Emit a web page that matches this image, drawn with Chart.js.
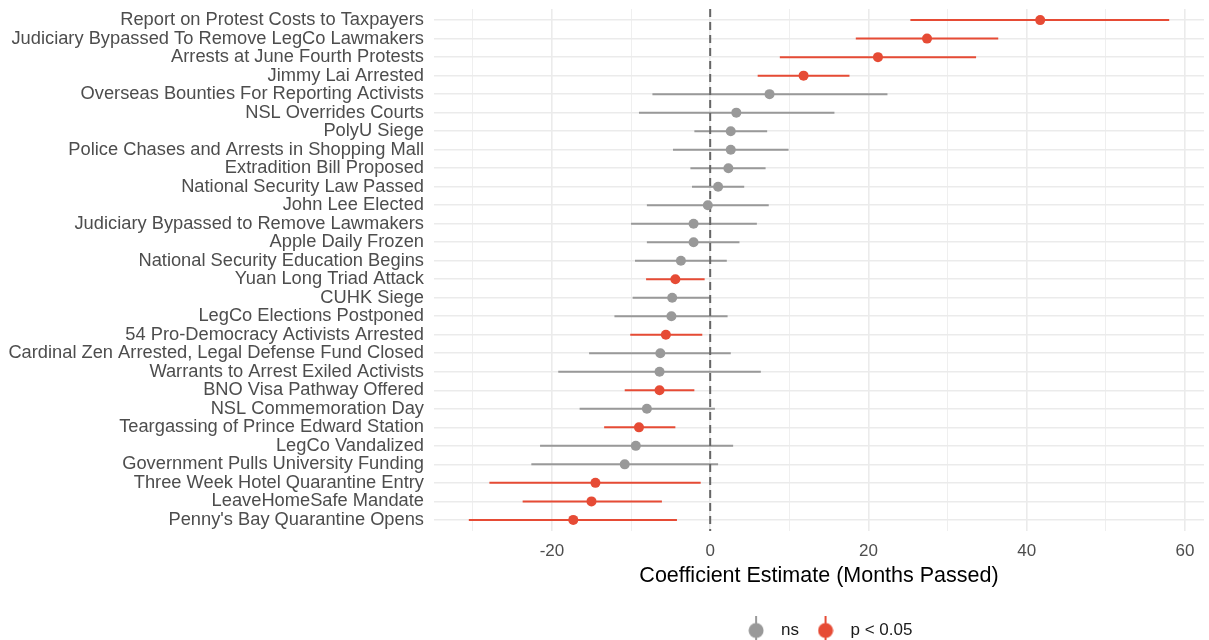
<!DOCTYPE html>
<html>
<head>
<meta charset="utf-8">
<script src="https://cdn.jsdelivr.net/npm/chart.js@4"></script>
<style>
  html, body { margin: 0; padding: 0; background: #fff; }
</style>
</head>
<body>
<canvas id="coefChart" width="1209" height="640"></canvas>
<script>
// Events, top to bottom
const events = [
    'Report on Protest Costs to Taxpayers',
    'Judiciary Bypassed To Remove LegCo Lawmakers',
    'Arrests at June Fourth Protests',
    'Jimmy Lai Arrested',
    'Overseas Bounties For Reporting Activists',
    'NSL Overrides Courts',
    'PolyU Siege',
    'Police Chases and Arrests in Shopping Mall',
    'Extradition Bill Proposed',
    'National Security Law Passed',
    'John Lee Elected',
    'Judiciary Bypassed to Remove Lawmakers',
    'Apple Daily Frozen',
    'National Security Education Begins',
    'Yuan Long Triad Attack',
    'CUHK Siege',
    'LegCo Elections Postponed',
    '54 Pro-Democracy Activists Arrested',
    'Cardinal Zen Arrested, Legal Defense Fund Closed',
    'Warrants to Arrest Exiled Activists',
    'BNO Visa Pathway Offered',
    'NSL Commemoration Day',
    'Teargassing of Prince Edward Station',
    'LegCo Vandalized',
    'Government Pulls University Funding',
    'Three Week Hotel Quarantine Entry',
    'LeaveHomeSafe Mandate',
    "Penny's Bay Quarantine Opens"
];

// Coefficient estimates (months passed) and confidence bounds
const estimates = [41.7, 27.4, 21.2, 11.8, 7.5, 3.3, 2.6, 2.6, 2.3, 1.0,
    -0.3, -2.1, -2.1, -3.7, -4.4, -4.8, -4.9, -5.6, -6.3, -6.4,
    -6.4, -8.0, -9.0, -9.4, -10.8, -14.5, -15.0, -17.3];
const lowerCI = [25.3, 18.4, 8.8, 6.0, -7.3, -9.0, -2.0, -4.7, -2.5, -2.3,
    -8.0, -10.0, -8.0, -9.5, -8.1, -9.8, -12.1, -10.1, -15.3, -19.2,
    -10.8, -16.5, -13.4, -21.5, -22.6, -27.9, -23.7, -30.5];
const upperCI = [58.0, 36.4, 33.6, 17.6, 22.4, 15.7, 7.2, 9.9, 7.0, 4.3,
    7.4, 5.9, 3.7, 2.1, -0.7, 0.1, 2.2, -1.0, 2.6, 6.4,
    -2.0, 0.6, -4.4, 2.9, 1.0, -1.2, -6.1, -4.2];
const significant = [true, true, true, true, false, false, false, false, false, false,
    false, false, false, false, true, false, false, true, false, false,
    true, false, true, false, false, true, true, true];

const xTicks = [-30, -20, -10, 0, 10, 20, 30, 40, 50, 60];
const groupLabels = ['ns', 'p < 0.05'];
const groupColors = ['#999999', '#E64B35'];

Chart.defaults.font.family = "'Liberation Sans', Arial, sans-serif";

function groupPoints(sig) {
    const pts = [];
    events.forEach((name, i) => {
        if (significant[i] === sig) pts.push({ x: estimates[i], y: i });
    });
    return pts;
}

// legend key: dot with a vertical line through it
function makeKey(color) {
    const c = document.createElement('canvas');
    c.width = 16; c.height = 30;
    const g = c.getContext('2d');
    g.strokeStyle = color;
    g.lineWidth = 2;
    g.beginPath(); g.moveTo(8, 0); g.lineTo(8, 30); g.stroke();
    g.fillStyle = color;
    g.beginPath(); g.arc(8, 15, 7.5, 0, Math.PI * 2); g.fill();
    return c;
}

// confidence intervals and the zero line, drawn under the points
const intervalPlugin = {
    id: 'intervals',
    beforeDatasetsDraw(chart) {
        const { ctx, chartArea, scales: { x, y } } = chart;
        ctx.save();
        ctx.lineWidth = 2;
        events.forEach((name, i) => {
            const py = y.getPixelForValue(i);
            ctx.strokeStyle = significant[i] ? groupColors[1] : groupColors[0];
            ctx.beginPath();
            ctx.moveTo(x.getPixelForValue(lowerCI[i]), py);
            ctx.lineTo(x.getPixelForValue(upperCI[i]), py);
            ctx.stroke();
        });
        const x0 = x.getPixelForValue(0);
        ctx.strokeStyle = '#666666';
        ctx.lineWidth = 2;
        ctx.setLineDash([8, 5]);
        ctx.beginPath();
        ctx.moveTo(x0, chartArea.top);
        ctx.lineTo(x0, chartArea.bottom);
        ctx.stroke();
        ctx.restore();
    }
};

// nudge the legend a little to the right of the plot centre
const legendNudge = {
    id: 'legendNudge',
    afterLayout(chart) {
        chart.legend.left += 7;
        chart.legend.right += 7;
    }
};

new Chart(document.getElementById('coefChart'), {
    type: 'scatter',
    data: {
        datasets: [
            {
                label: groupLabels[0],
                data: groupPoints(false),
                backgroundColor: groupColors[0],
                borderColor: groupColors[0],
                pointRadius: 5,
                pointBorderWidth: 0
            },
            {
                label: groupLabels[1],
                data: groupPoints(true),
                backgroundColor: groupColors[1],
                borderColor: groupColors[1],
                pointRadius: 5,
                pointBorderWidth: 0
            }
        ]
    },
    options: {
        responsive: false,
        animation: false,
        layout: { padding: { top: 9, right: 0, bottom: -9, left: 0 } },
        plugins: {
            tooltip: { enabled: false },
            legend: {
                position: 'bottom',
                fullSize: false,
                labels: {
                    usePointStyle: true,
                    pointStyleWidth: 33,
                    color: '#1a1a1a',
                    font: { size: 17 },
                    padding: 10,
                    generateLabels(chart) {
                        return chart.data.datasets.map((ds, i) => ({
                            text: ds.label,
                            fillStyle: ds.backgroundColor,
                            strokeStyle: ds.borderColor,
                            lineWidth: 0,
                            pointStyle: makeKey(ds.backgroundColor),
                            fontColor: '#1a1a1a',
                            datasetIndex: i,
                            hidden: false
                        }));
                    }
                }
            }
        },
        scales: {
            x: {
                type: 'linear',
                min: -34.9,
                max: 62.4,
                afterBuildTicks(scale) {
                    scale.ticks = xTicks.map(v => ({ value: v }));
                },
                afterFit(scale) {
                    scale.height = 81;
                },
                ticks: {
                    autoSkip: false,
                    maxRotation: 0,
                    color: '#4D4D4D',
                    font: { size: 17 },
                    padding: 10,
                    callback: v => (v % 20 === 0 ? String(v) : '')
                },
                grid: {
                    drawTicks: false,
                    color: '#EBEBEB',
                    lineWidth: ctx => (ctx.tick && ctx.tick.value % 20 === 0 ? 1.6 : 0.8)
                },
                border: { display: false },
                title: {
                    display: true,
                    text: 'Coefficient Estimate (Months Passed)',
                    color: '#000000',
                    font: { size: 21.5 },
                    padding: { top: 0, bottom: 23 }
                }
            },
            y: {
                type: 'linear',
                reverse: true,
                min: -0.6,
                max: events.length - 0.4,
                afterBuildTicks(scale) {
                    scale.ticks = events.map((name, i) => ({ value: i }));
                },
                afterFit(scale) {
                    scale.width = 434;
                    scale.paddingTop = 0;
                    scale.paddingBottom = 0;
                },
                ticks: {
                    autoSkip: false,
                    color: '#4D4D4D',
                    font: { size: 18.3, lineHeight: 1 },
                    padding: 10,
                    callback: v => events[v]
                },
                grid: {
                    drawTicks: false,
                    color: '#EBEBEB',
                    lineWidth: 1.6
                },
                border: { display: false }
            }
        }
    },
    plugins: [intervalPlugin, legendNudge]
});
</script>
</body>
</html>
